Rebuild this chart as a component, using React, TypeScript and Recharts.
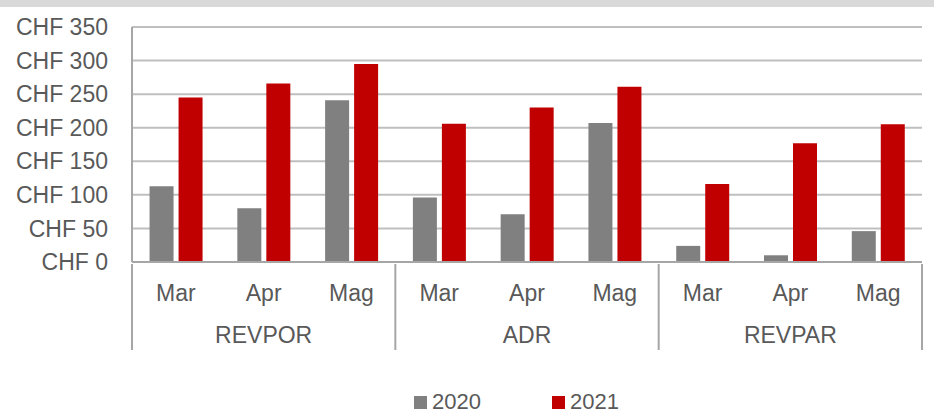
import { BarChart, Bar, XAxis, YAxis, CartesianGrid } from "recharts";

const GROUPS = ["REVPOR", "ADR", "REVPAR"];
const MONTHS = ["Mar", "Apr", "Mag"];
const VALUES_2020 = [113, 80, 241, 96, 71, 207, 24, 10, 46];
const VALUES_2021 = [245, 266, 295, 206, 230, 261, 116, 177, 205];
const Y_TICKS = [0, 50, 100, 150, 200, 250, 300, 350];

const SERIES = [
  { key: "y2020", name: "2020", color: "#808080" },
  { key: "y2021", name: "2021", color: "#c00000" },
];

const W = 934;
const H = 417;
const MARGIN = { top: 27, right: 12, bottom: 65, left: 0 };
const Y_AXIS_W = 132;
const X_AXIS_H = 90;
const FONT = "'Liberation Sans', Arial, sans-serif";
const TEXT = "#595959";
const AXIS = "#a6a6a6";

const data = GROUPS.flatMap((group, g) =>
  MONTHS.map((month, m) => ({
    group,
    month,
    y2020: VALUES_2020[g * MONTHS.length + m],
    y2021: VALUES_2021[g * MONTHS.length + m],
  }))
);

const plotW = W - MARGIN.left - MARGIN.right - Y_AXIS_W;
const band = plotW / data.length;

function MonthTick(props: any) {
  const { x, y, payload, index } = props;
  const pos = index % MONTHS.length;
  return (
    <g>
      <text
        x={x}
        y={y + 37}
        textAnchor="middle"
        fill={TEXT}
        fontSize={23}
        fontFamily={FONT}
      >
        {payload.value}
      </text>
      {pos === 1 && (
        <text
          x={x}
          y={y + 79}
          textAnchor="middle"
          fill={TEXT}
          fontSize={23}
          fontFamily={FONT}
        >
          {data[index].group}
        </text>
      )}
      {pos === 0 && (
        <line
          x1={x - band / 2}
          x2={x - band / 2}
          y1={y}
          y2={y + 86}
          stroke={AXIS}
          strokeWidth={2}
        />
      )}
      {index === data.length - 1 && (
        <line
          x1={x + band / 2}
          x2={x + band / 2}
          y1={y}
          y2={y + 86}
          stroke={AXIS}
          strokeWidth={2}
        />
      )}
    </g>
  );
}

export default function App() {
  return (
    <div
      style={{
        position: "absolute",
        left: 0,
        top: 0,
        width: W,
        height: H,
        background: "#fff",
        fontFamily: FONT,
      }}
    >
      <div
        style={{
          position: "absolute",
          left: 0,
          top: 0,
          width: W,
          height: 7,
          background: "#d9d9d9",
        }}
      />
      <BarChart
        width={W}
        height={H}
        data={data}
        margin={MARGIN}
        barCategoryGap="20%"
        barGap={5}
      >
        <CartesianGrid vertical={false} stroke="#bfbfbf" strokeWidth={2} />
        <XAxis
          dataKey="month"
          interval={0}
          height={X_AXIS_H}
          axisLine={{ stroke: AXIS, strokeWidth: 2 }}
          tickLine={false}
          tickSize={0}
          tick={<MonthTick />}
        />
        <YAxis
          width={Y_AXIS_W}
          domain={[0, 350]}
          ticks={Y_TICKS}
          interval={0}
          axisLine={{ stroke: AXIS, strokeWidth: 2 }}
          tickLine={false}
          tickSize={0}
          tickMargin={24}
          tickFormatter={(v) => `CHF ${v}`}
          tick={{ fill: TEXT, fontSize: 23, fontFamily: FONT }}
        />
        {SERIES.map((s) => (
          <Bar
            key={s.key}
            dataKey={s.key}
            name={s.name}
            fill={s.color}
            isAnimationActive={false}
          />
        ))}
      </BarChart>
      <div
        style={{
          position: "absolute",
          left: 414,
          top: 389,
          display: "flex",
          alignItems: "center",
          gap: 71,
          color: TEXT,
          fontSize: 22,
        }}
      >
        {SERIES.map((s) => (
          <div key={s.key} style={{ display: "flex", alignItems: "center" }}>
            <span
              style={{
                display: "inline-block",
                width: 13,
                height: 13,
                background: s.color,
                marginRight: 5,
              }}
            />
            <span>{s.name}</span>
          </div>
        ))}
      </div>
    </div>
  );
}
